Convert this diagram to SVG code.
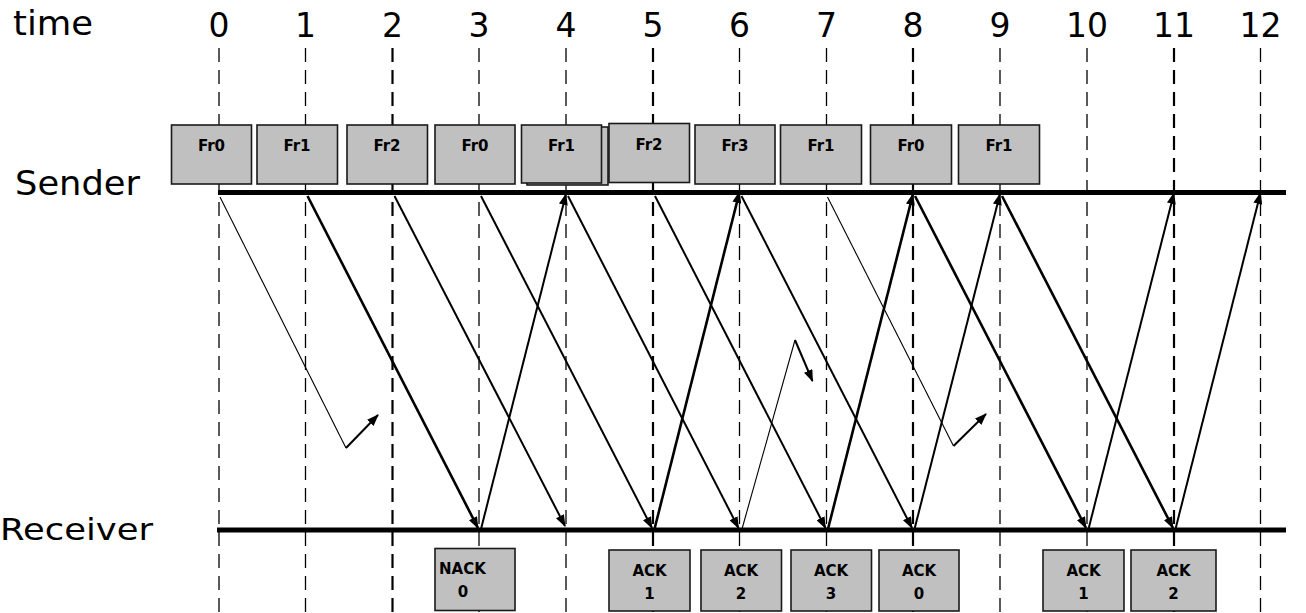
<svg xmlns="http://www.w3.org/2000/svg" width="1306" height="613" viewBox="0 0 1306 613">
<defs>
<style>
.lbl{font-family:"DejaVu Sans","Verdana",sans-serif;font-size:31px;fill:#000}
.big{font-size:33px}
.num{font-family:"DejaVu Sans","Verdana",sans-serif;font-size:33px;fill:#000;text-anchor:middle}
.grid{stroke:#000;stroke-width:1.3;stroke-dasharray:14 8;fill:none}
.grid.t{stroke-width:2.2}
.axis{stroke:#000;stroke-width:5;fill:none}
.box{fill:#c0c0c0;stroke:#1a1a1a;stroke-width:1.6}
.bt{font-family:"DejaVu Sans","Verdana",sans-serif;font-weight:bold;font-size:15px;fill:#000;text-anchor:middle}
.a{stroke:#000;fill:none;stroke-width:2}
.a1{stroke-width:1.1}
.a3{stroke-width:2.6}
.ah{marker-end:url(#arr)}
</style>
<marker id="arr" markerUnits="userSpaceOnUse" markerWidth="12" markerHeight="9" refX="11" refY="4.5" orient="auto">
<path d="M0,0 L12,4.5 L0,9 z" fill="#000"/>
</marker>
</defs>
<rect width="1306" height="613" fill="#fff"/>

<g id="labels">
<text class="lbl big" x="13" y="35" textLength="80" lengthAdjust="spacingAndGlyphs">time</text>
<text class="lbl big" x="15" y="195" textLength="125" lengthAdjust="spacingAndGlyphs">Sender</text>
<text class="lbl" x="0" y="540" textLength="153" lengthAdjust="spacingAndGlyphs">Receiver</text>
<text class="num" x="219" y="37">0</text>
<text class="num" x="305.5" y="37">1</text>
<text class="num" x="392.5" y="37">2</text>
<text class="num" x="479" y="37">3</text>
<text class="num" x="566" y="37">4</text>
<text class="num" x="653" y="37">5</text>
<text class="num" x="739.5" y="37">6</text>
<text class="num" x="826.5" y="37">7</text>
<text class="num" x="913" y="37">8</text>
<text class="num" x="1000" y="37">9</text>
<text class="num" x="1087" y="37">10</text>
<text class="num" x="1174" y="37">11</text>
<text class="num" x="1260.5" y="37">12</text>
</g>

<g id="gridlines">
<line class="grid" x1="219" y1="48" x2="219" y2="613"/>
<line class="grid" x1="305.5" y1="48" x2="305.5" y2="613"/>
<line class="grid t" x1="392.5" y1="48" x2="392.5" y2="613"/>
<line class="grid" x1="479" y1="48" x2="479" y2="613"/>
<line class="grid" x1="566" y1="48" x2="566" y2="613"/>
<line class="grid t" x1="653" y1="48" x2="653" y2="613"/>
<line class="grid" x1="739.5" y1="48" x2="739.5" y2="613"/>
<line class="grid" x1="826.5" y1="48" x2="826.5" y2="613"/>
<line class="grid t" x1="913" y1="48" x2="913" y2="613"/>
<line class="grid" x1="1000" y1="48" x2="1000" y2="613"/>
<line class="grid" x1="1087" y1="48" x2="1087" y2="613"/>
<line class="grid t" x1="1174" y1="48" x2="1174" y2="613"/>
<line class="grid" x1="1260.5" y1="48" x2="1260.5" y2="613"/>
</g>

<g id="sender-line"><line class="axis" x1="218" y1="192.5" x2="1286" y2="192.5"/></g>
<g id="receiver-line"><line class="axis" x1="217" y1="530" x2="1286" y2="530"/></g>

<g id="frame-0a"><rect class="box" x="171.5" y="125" width="80" height="59"/><text class="bt" x="211.5" y="151">Fr0</text></g>
<g id="frame-1a"><rect class="box" x="257" y="125" width="80.5" height="59"/><text class="bt" x="297" y="151">Fr1</text></g>
<g id="frame-2a"><rect class="box" x="347" y="125" width="80.5" height="59"/><text class="bt" x="387" y="151">Fr2</text></g>
<g id="frame-0b"><rect class="box" x="435" y="125" width="80" height="59"/><text class="bt" x="475" y="151">Fr0</text></g>
<g id="frame-1b"><rect class="box" x="527" y="127" width="81" height="58"/><rect class="box" x="521.5" y="125" width="80" height="58"/><text class="bt" x="561.5" y="151">Fr1</text></g>
<g id="frame-2b"><rect class="box" x="609" y="123.5" width="80.5" height="59"/><text class="bt" x="649" y="150">Fr2</text></g>
<g id="frame-3"><rect class="box" x="695" y="125" width="80" height="59"/><text class="bt" x="735" y="151">Fr3</text></g>
<g id="frame-1c"><rect class="box" x="780.5" y="125" width="81" height="59"/><text class="bt" x="821" y="151">Fr1</text></g>
<g id="frame-0c"><rect class="box" x="870.5" y="125" width="81" height="59"/><text class="bt" x="911" y="151">Fr0</text></g>
<g id="frame-1d"><rect class="box" x="958.5" y="125" width="81" height="59"/><text class="bt" x="999" y="151">Fr1</text></g>

<g id="nack-0"><rect class="box" x="435" y="548.5" width="80" height="62"/><text class="bt" x="439" y="574" style="text-anchor:start">NACK</text><text class="bt" x="463" y="597">0</text></g>
<g id="ack-1a"><rect class="box" x="609" y="550" width="81" height="61"/><text class="bt" x="649.5" y="576">ACK</text><text class="bt" x="649.5" y="599">1</text></g>
<g id="ack-2a"><rect class="box" x="701" y="550" width="80.5" height="61"/><text class="bt" x="741" y="576">ACK</text><text class="bt" x="741" y="599">2</text></g>
<g id="ack-3"><rect class="box" x="791" y="550" width="80.5" height="61"/><text class="bt" x="831" y="576">ACK</text><text class="bt" x="831" y="599">3</text></g>
<g id="ack-0"><rect class="box" x="879" y="550" width="80" height="61"/><text class="bt" x="919" y="576">ACK</text><text class="bt" x="919" y="599">0</text></g>
<g id="ack-1b"><rect class="box" x="1043" y="550" width="81" height="61"/><text class="bt" x="1083.5" y="576">ACK</text><text class="bt" x="1083.5" y="599">1</text></g>
<g id="ack-2b"><rect class="box" x="1131" y="550" width="85" height="61"/><text class="bt" x="1173.5" y="576">ACK</text><text class="bt" x="1173.5" y="599">2</text></g>

<g id="connectors">
<polyline class="a a1" points="220,197 346,448"/>
<line class="a ah" x1="346" y1="448" x2="378" y2="415"/>
<line class="a a3 ah" x1="307.5" y1="196" x2="478" y2="528"/>
<line class="a ah" x1="394.5" y1="196" x2="565" y2="526"/>
<line class="a ah" x1="481" y1="196" x2="652" y2="528"/>
<line class="a ah" x1="568" y1="196" x2="738.5" y2="528"/>
<line class="a ah" x1="655" y1="196" x2="825.5" y2="528"/>
<line class="a ah" x1="741.5" y1="196" x2="912" y2="528"/>
<polyline class="a a1" points="827.5,197 953.5,446"/>
<line class="a ah" x1="953.5" y1="446" x2="986" y2="414"/>
<line class="a a3 ah" x1="915" y1="196" x2="1086" y2="528"/>
<line class="a a3 ah" x1="1002" y1="196" x2="1173" y2="528"/>
<line class="a ah" x1="481" y1="529" x2="566" y2="194"/>
<line class="a a3 ah" x1="654.5" y1="529" x2="739.5" y2="192"/>
<polyline class="a a1" points="742,529 795,340"/>
<line class="a ah" x1="795" y1="340" x2="812.5" y2="381"/>
<line class="a a3 ah" x1="828" y1="529" x2="913" y2="194"/>
<line class="a ah" x1="914.5" y1="529" x2="1000" y2="194"/>
<line class="a ah" x1="1088.5" y1="529" x2="1174" y2="193"/>
<line class="a ah" x1="1175.5" y1="529" x2="1260.5" y2="193"/>
</g>
</svg>
